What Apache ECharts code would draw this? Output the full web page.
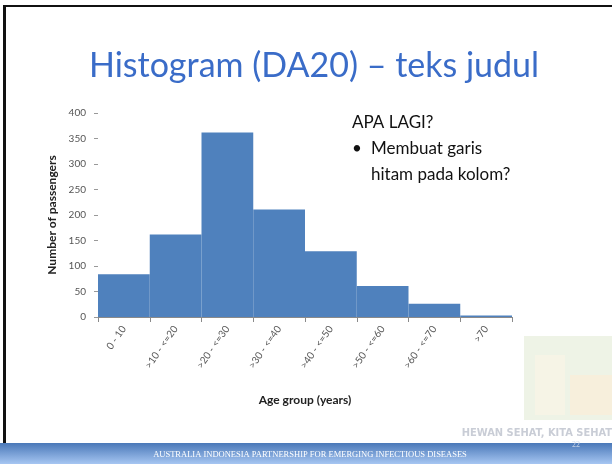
<!DOCTYPE html>
<html>
<head>
<meta charset="utf-8">
<script src="https://cdn.jsdelivr.net/npm/echarts@6/dist/echarts.min.js"></script>
<style>
  html, body { margin: 0; padding: 0; background: #fff; }
  #chart { width: 612px; height: 464px; }
</style>
</head>
<body>
<div id="chart"></div>
<script>
// histogram data: passengers per age group
const ageGroups = ['0 - 10', '>10 - <=20', '>20 - <=30', '>30 - <=40', '>40 - <=50', '>50 - <=60', '>60 - <=70', '>70']
const passengers = [84, 162, 362, 211, 129, 61, 26, 3]
const yTicks = { min: 0, max: 400, interval: 50 }

const titleText = 'Histogram (DA20) – teks judul'
const noteLines = ['APA LAGI?', 'Membuat garis', 'hitam pada kolom?']
const footerText = 'AUSTRALIA INDONESIA PARTNERSHIP FOR EMERGING INFECTIOUS DISEASES'

const chart = echarts.init(document.getElementById('chart'))

const labelFont = 'Lato, "Open Sans", sans-serif'

chart.setOption({
  animation: false,
  grid: { left: 98, right: 100, top: 113, bottom: 147 },
  xAxis: {
    type: 'category',
    data: ageGroups,
    boundaryGap: true,
    name: 'Age group (years)',
    nameLocation: 'middle',
    nameGap: 77,
    nameTextStyle: { fontFamily: labelFont, fontWeight: 'bold', fontSize: 12, color: '#222' },
    axisLine: { lineStyle: { color: '#8a8a8a', width: 1 } },
    axisTick: { show: true, alignWithLabel: false, length: 5, lineStyle: { color: '#8a8a8a' } },
    axisLabel: { rotate: 55, fontSize: 10, color: '#555', fontFamily: labelFont, margin: 10, interval: 0 },
  },
  yAxis: {
    type: 'value',
    min: yTicks.min,
    max: yTicks.max,
    interval: yTicks.interval,
    name: 'Number of passengers',
    nameLocation: 'middle',
    nameGap: 36,
    nameTextStyle: { fontFamily: labelFont, fontWeight: 'bold', fontSize: 12, color: '#222' },
    axisLine: { show: false },
    axisTick: { show: true, length: 4, lineStyle: { color: '#999' } },
    axisLabel: { fontSize: 10, color: '#555', fontFamily: labelFont, margin: 12 },
    splitLine: { show: false },
  },
  series: [{
    type: 'bar',
    data: passengers,
    barCategoryGap: '0%',
    itemStyle: { color: '#4f81bd' },
  }],
  graphic: [
    // slide frame
    { type: 'rect', shape: { x: 3, y: 5, width: 3, height: 438 }, style: { fill: '#111' }, silent: true },
    { type: 'rect', shape: { x: 3, y: 5, width: 609, height: 2 }, style: { fill: '#111' }, silent: true },
    // title
    {
      type: 'text', x: 314, y: 66,
      style: { text: titleText, fill: '#3a6cc8', font: '34px Lato, "Open Sans", sans-serif', textAlign: 'center', textVerticalAlign: 'middle' },
    },
    // notes on the right
    {
      type: 'text', x: 352, y: 123,
      style: { text: noteLines[0], fill: '#111', font: '17px Lato, "Open Sans", sans-serif', textVerticalAlign: 'middle' },
    },
    {
      type: 'text', x: 352, y: 149,
      style: { text: '•', fill: '#111', font: '17px Lato, "Open Sans", sans-serif', textVerticalAlign: 'middle' },
    },
    {
      type: 'text', x: 371, y: 149,
      style: { text: noteLines[1], fill: '#111', font: '17px Lato, "Open Sans", sans-serif', textVerticalAlign: 'middle' },
    },
    {
      type: 'text', x: 371, y: 175,
      style: { text: noteLines[2], fill: '#111', font: '17px Lato, "Open Sans", sans-serif', textVerticalAlign: 'middle' },
    },
    // faded logo in the corner
    { type: 'rect', shape: { x: 524, y: 336, width: 88, height: 84 }, style: { fill: '#eef3e6' }, silent: true },
    { type: 'rect', shape: { x: 535, y: 355, width: 30, height: 60 }, style: { fill: '#f6f4e6' }, silent: true },
    { type: 'rect', shape: { x: 570, y: 375, width: 42, height: 40 }, style: { fill: '#f7efdc' }, silent: true },
    {
      type: 'text', x: 612, y: 433,
      style: { text: 'HEWAN SEHAT, KITA SEHAT', fill: '#c9cdd6', font: 'bold 11px "Liberation Sans Narrow", "DejaVu Sans Condensed", sans-serif', textAlign: 'right', textVerticalAlign: 'middle' },
    },
    // footer band
    {
      type: 'rect', shape: { x: 0, y: 443, width: 612, height: 21 },
      style: {
        fill: new echarts.graphic.LinearGradient(0, 0, 0, 1, [
          { offset: 0, color: '#4a78b8' },
          { offset: 1, color: '#a6c6f2' },
        ]),
      },
      silent: true,
    },
    {
      type: 'text', x: 310, y: 455,
      style: { text: footerText, fill: '#ffffff', font: '8.5px "Liberation Serif", "DejaVu Serif", serif', textAlign: 'center', textVerticalAlign: 'middle' },
    },
    {
      type: 'text', x: 576, y: 445,
      style: { text: '22', fill: '#c6d3e6', font: '8px "Liberation Serif", serif', textAlign: 'center', textVerticalAlign: 'middle' },
    },
  ],
})

window.addEventListener('resize', () => chart.resize())
</script>
</body>
</html>
